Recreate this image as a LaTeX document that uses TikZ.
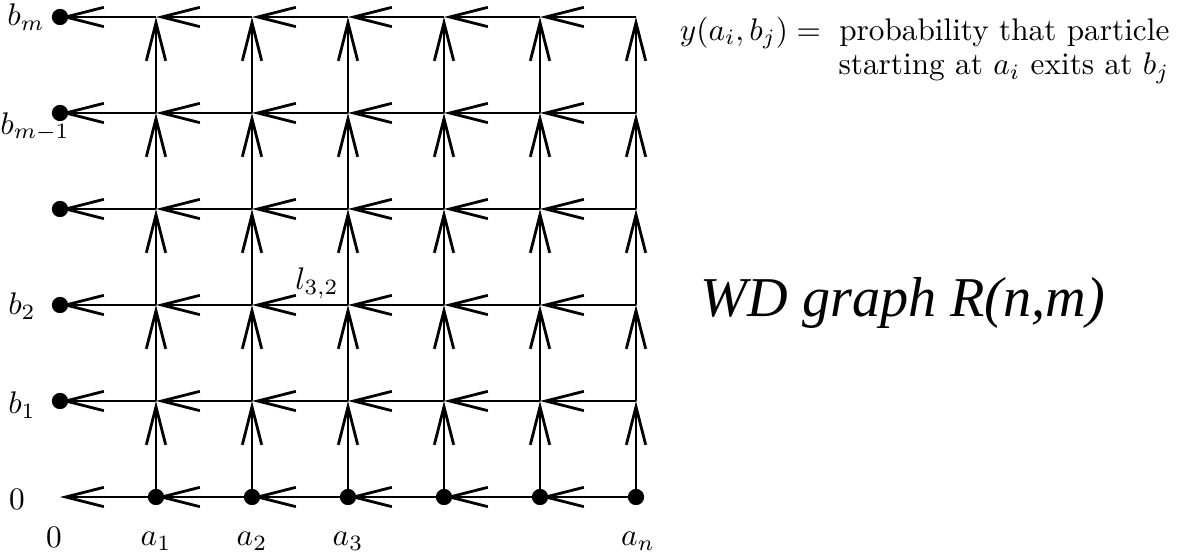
\documentclass[tikz,border=0pt]{standalone}
\usepackage{fontspec}
\newfontfamily\timesit{Liberation Serif Italic}
\usetikzlibrary{arrows.meta}
\begin{document}
\begin{tikzpicture}[x=0.32pt,y=-0.32pt,
  edge/.style={line width=0.9pt,-{Straight Barb[length=12.2pt,width=6.2pt,line width=0.9pt]}},
  dot/.style={fill=black},
  lab/.style={inner sep=0pt,font=\normalsize}]
\useasboundingbox (0,0) rectangle (1184,554);
% grid points
\foreach \i in {0,...,6}{
  \foreach \j in {0,...,5}{
    \coordinate (v-\i-\j) at ({60+96*\i},{497-96*\j});
  }
}
% horizontal edges (leftwards)
\foreach \j in {0,...,5}{
  \foreach \i [evaluate=\i as \k using int(\i-1)] in {1,...,6}{
    \draw[edge] (v-\i-\j) -- (v-\k-\j);
  }
}
% vertical edges (upwards)
\foreach \i in {1,...,6}{
  \foreach \j [evaluate=\j as \k using int(\j+1)] in {0,...,4}{
    \draw[edge] (v-\i-\j) -- (v-\i-\k);
  }
}
% dots
\foreach \j in {1,...,5}{ \fill[dot] (v-0-\j) circle (2.6pt); }
\foreach \i in {1,...,6}{ \fill[dot] (v-\i-0) circle (2.6pt); }
% labels
\node[lab] (lbm) at (26,17) {$b_m$};
\node[lab] (lbm1) at (35,127) {$b_{m-1}$};
\node[lab] (lb2) at (22,306) {$b_2$};
\node[lab] (lb1) at (22,405) {$b_1$};
\node[lab] (lz1) at (17,499) {$0$};
\node[lab] (lz2) at (54,537) {$0$};
\node[lab] (la1) at (156,541) {$a_1$};
\node[lab] (la2) at (252,541) {$a_2$};
\node[lab] (la3) at (348,541) {$a_3$};
\node[lab] (lan) at (638,541) {$a_n$};
\node[lab] (l32) at (317,283) {$l_{3,2}$};
\node[inner sep=0pt,align=right,anchor=north east] (prob) at (1170,16)
  {$y(a_i,b_j) =$\ \hspace{2.5pt}probability that particle\\[-1pt] starting at $a_i$ exits at $b_j$};
\node[inner sep=0pt,anchor=base west,font=\timesit\fontsize{18}{20}\selectfont] (title) at (700,316) {WD graph R(n,m)};
\end{tikzpicture}
\end{document}
